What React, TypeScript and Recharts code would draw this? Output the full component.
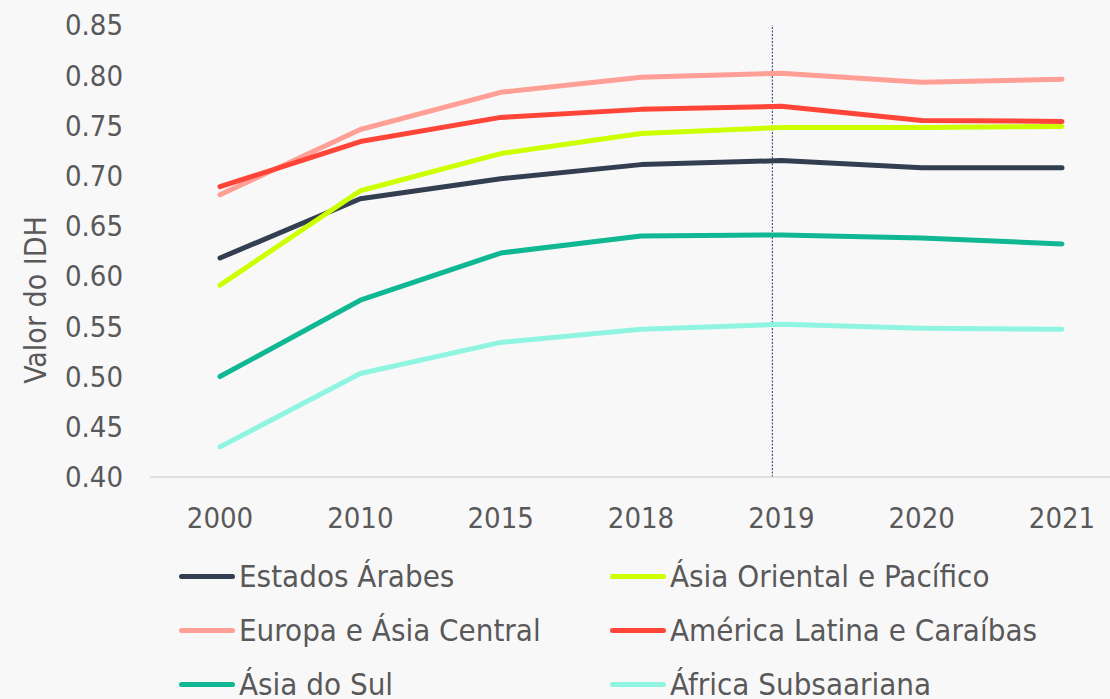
import { LineChart, Line, XAxis, YAxis, ReferenceLine, Label } from 'recharts'

const years = ['2000', '2010', '2015', '2018', '2019', '2020', '2021']

const estadosArabes = [0.618, 0.677, 0.697, 0.711, 0.715, 0.708, 0.708]
const asiaOriental = [0.591, 0.685, 0.722, 0.742, 0.748, 0.748, 0.749]
const europaAsiaCentral = [0.681, 0.746, 0.783, 0.798, 0.802, 0.793, 0.796]
const americaLatina = [0.689, 0.734, 0.758, 0.766, 0.769, 0.755, 0.754]
const asiaSul = [0.5, 0.576, 0.623, 0.64, 0.641, 0.638, 0.632]
const africaSubsaariana = [0.43, 0.503, 0.534, 0.547, 0.552, 0.548, 0.547]

const yTicks = [0.4, 0.45, 0.5, 0.55, 0.6, 0.65, 0.7, 0.75, 0.8, 0.85]

const series = [
  { key: 'ea', name: 'Estados Árabes', values: estadosArabes, color: '#333f50' },
  { key: 'aop', name: 'Ásia Oriental e Pacífico', values: asiaOriental, color: '#ccff00' },
  { key: 'eac', name: 'Europa e Ásia Central', values: europaAsiaCentral, color: '#ff9f96' },
  { key: 'alc', name: 'América Latina e Caraíbas', values: americaLatina, color: '#ff4538' },
  { key: 'as', name: 'Ásia do Sul', values: asiaSul, color: '#0fb793' },
  { key: 'afs', name: 'África Subsaariana', values: africaSubsaariana, color: '#8ff5e1' },
]

const data = years.map((year, i) => {
  const row: Record<string, string | number> = { year }
  series.forEach(s => {
    row[s.key] = s.values[i]
  })
  return row
})

const FONT = '"DejaVu Sans Condensed", "Liberation Sans", sans-serif'
const TEXT = '#595959'

function ChartLegend() {
  return (
    <div
      style={{
        position: 'absolute',
        left: 179,
        top: 549,
        display: 'grid',
        gridTemplateColumns: '431px 440px',
        fontFamily: FONT,
        fontSize: 31,
        color: TEXT,
      }}
    >
      {series.map(s => (
        <div key={s.key} style={{ display: 'flex', alignItems: 'center', height: 54, whiteSpace: 'nowrap' }}>
          <span
            style={{
              display: 'inline-block',
              width: 56,
              height: 5,
              borderRadius: 3,
              background: s.color,
              marginRight: 4,
            }}
          />
          <span>{s.name}</span>
        </div>
      ))}
    </div>
  )
}

// the marker line sits a little left of the 2019 tick in the original
const DottedMarker = (props: any) => (
  <line
    x1={props.x1 - 9}
    x2={props.x2 - 9}
    y1={props.y1}
    y2={props.y2}
    stroke="#1f3864"
    strokeWidth={1}
    strokeDasharray="2 1.5"
  />
)

export default function App() {
  return (
    <div
      style={{
        position: 'fixed',
        left: 0,
        top: 0,
        width: 1110,
        height: 699,
        overflow: 'hidden',
        background: '#f9f8f9',
      }}
    >
      <LineChart
        width={1132}
        height={699}
        data={data}
        margin={{ top: 25, right: 0, bottom: 182, left: 0 }}
      >
        <XAxis
          dataKey="year"
          height={40}
          padding={{ left: 70, right: 70 }}
          axisLine={{ stroke: '#d9d9d9', strokeWidth: 1.5 }}
          tickLine={false}
          tickSize={0}
          tickMargin={30}
          tick={{ fontSize: 29, fill: TEXT, fontFamily: FONT }}
          interval={0}
        />
        <YAxis
          width={150}
          domain={[0.4, 0.85]}
          ticks={yTicks}
          axisLine={false}
          tickLine={false}
          tickSize={0}
          tickMargin={27}
          tick={{ fontSize: 29, fill: TEXT, fontFamily: FONT }}
          tickFormatter={(v: number) => v.toFixed(2)}
        >
          <Label
            content={({ viewBox }: any) => {
              const cy = viewBox.y + viewBox.height / 2 + 49
              return (
                <text
                  x={35}
                  y={cy}
                  transform={`rotate(-90, 35, ${cy})`}
                  textAnchor="middle"
                  dominantBaseline="central"
                  fontSize={30}
                  fill={TEXT}
                  fontFamily={FONT}
                >
                  Valor do IDH
                </text>
              )
            }}
          />
        </YAxis>
        <ReferenceLine x="2019" shape={DottedMarker} />
        {series.map(s => (
          <Line
            key={s.key}
            dataKey={s.key}
            name={s.name}
            stroke={s.color}
            strokeWidth={5}
            strokeLinecap="round"
            strokeLinejoin="round"
            dot={false}
            isAnimationActive={false}
          />
        ))}
      </LineChart>
      <ChartLegend />
    </div>
  )
}
